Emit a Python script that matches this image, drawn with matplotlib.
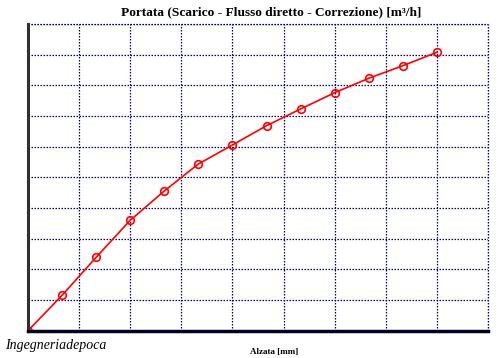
import matplotlib
matplotlib.use("Agg")
import matplotlib.pyplot as plt
import numpy as np

# Data (x in mm steps, y in grid units)
alzata = [0, 1, 2, 3, 4, 5, 6, 7, 8, 9, 10, 11, 12]
portata = [0.0, 1.154, 2.393, 3.600, 4.555, 5.435, 6.055, 6.684, 7.229, 7.760, 8.230, 8.640, 9.077]

title = "Portata (Scarico - Flusso diretto - Correzione) [m³/h]"
xlabel = "Alzata [mm]"
watermark = "Ingegneriadepoca"

fig = plt.figure(figsize=(5.0, 3.58), dpi=100)
ax = fig.add_axes([28/500, 1 - 330.7/358, 460/500, (330.7 - 24)/358])

ax.plot(alzata, portata, color="red", lw=1.2, marker="o", ms=5.5,
        mfc="none", mec="red", mew=1.2, clip_on=True)

ax.set_xlim(0, 13.5)
ax.set_ylim(0, 10)
ax.set_xticks(np.arange(0, 13.51, 1.5))
ax.set_yticks(np.arange(0, 10.01, 1))
ax.tick_params(length=0, labelbottom=False, labelleft=False)
ax.grid(True, color="#000080", linestyle=(0, (1.2, 1.2)), lw=0.9)

for s in ["top", "right"]:
    ax.spines[s].set_visible(False)
ax.spines["left"].set_color("#303030")
ax.spines["left"].set_linewidth(2.2)
ax.spines["bottom"].set_color("#000020")
ax.spines["bottom"].set_linewidth(2.5)
# top/right border drawn as dotted grid lines
ax.axhline(10, color="#000080", linestyle=(0, (1.2, 1.2)), lw=0.9, clip_on=False)
ax.axvline(13.5, color="#000080", linestyle=(0, (1.2, 1.2)), lw=0.9, clip_on=False)

fig.text(271/500, 1 - 12/358, title, ha="center", va="center",
         fontsize=9.6, fontweight="bold", family="Liberation Serif")
fig.text(274/500, 1 - 352/358, xlabel, ha="center", va="center",
         fontsize=6.5, fontweight="bold", family="Liberation Serif")
fig.text(5/500, 1 - 346/358, watermark, ha="left", va="center",
         fontsize=10, style="italic", family="Liberation Serif")

fig.savefig("out.png", dpi=100)
